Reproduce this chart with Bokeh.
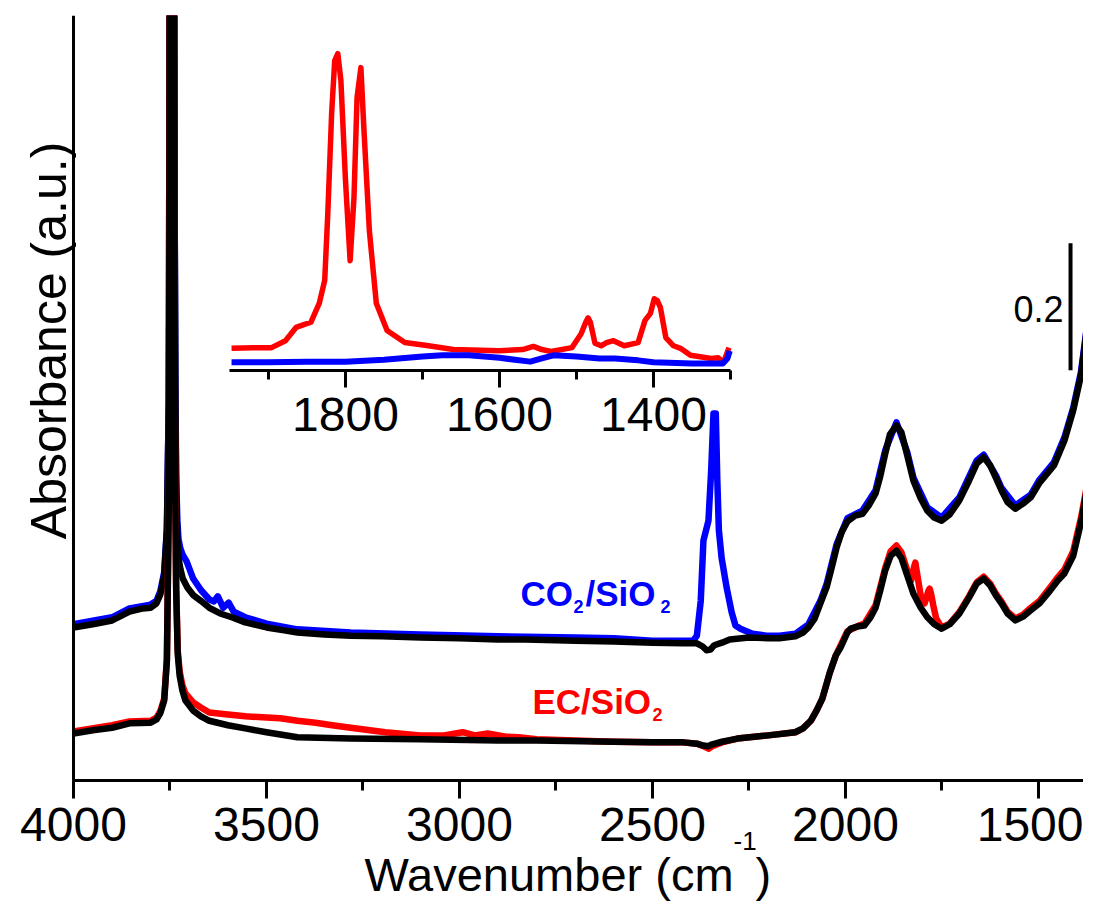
from math import pi
from bokeh.plotting import figure
from bokeh.models import Range1d, LinearAxis, SingleIntervalTicker, FixedTicker, Label
from bokeh.embed import file_html
from bokeh.resources import INLINE

FONT = "Liberation Sans"

# ---------------- data (absorbance, offset spectra) ----------------
# SiO2 reference spectrum, upper copy (under CO2/SiO2)
UPPER_WN = [4000, 3950, 3900, 3855, 3820, 3800, 3785, 3775, 3765, 3758, 3753, 3750, 3740, 3738, 3736, 3734,
            3731, 3728, 3723, 3717, 3705, 3690, 3670, 3648, 3620, 3590, 3555, 3500, 3450, 3420, 3350, 3282,
            3200, 3101, 3000, 2900, 2829, 2700, 2600, 2500, 2420, 2385, 2370, 2360, 2350, 2340, 2320, 2300,
            2250, 2200, 2171, 2130, 2110, 2096, 2080, 2065, 2049, 2035, 2023, 2010, 1995, 1975, 1956, 1940,
            1922, 1910, 1897, 1885, 1868, 1855, 1840, 1824, 1805, 1788, 1770, 1751, 1730, 1705, 1680, 1660,
            1642, 1625, 1610, 1596, 1580, 1560, 1540, 1520, 1497, 1460, 1433, 1410, 1390, 1375, 1363, 1345]
UPPER_A = [0.241, 0.246, 0.252, 0.266, 0.271, 0.272, 0.279, 0.293, 0.323, 0.394, 0.598, 1.55, 1.55, 0.913, 0.600, 0.450,
           0.380, 0.350, 0.333, 0.318, 0.304, 0.292, 0.283, 0.272, 0.263, 0.257, 0.249, 0.241, 0.236, 0.233, 0.230, 0.228,
           0.227, 0.225, 0.224, 0.222, 0.222, 0.220, 0.219, 0.217, 0.216, 0.216, 0.211, 0.205, 0.206, 0.213, 0.217, 0.222,
           0.225, 0.224, 0.224, 0.227, 0.233, 0.241, 0.255, 0.279, 0.304, 0.337, 0.367, 0.391, 0.408, 0.417, 0.420, 0.433,
           0.452, 0.479, 0.515, 0.545, 0.559, 0.548, 0.512, 0.472, 0.444, 0.425, 0.414, 0.409, 0.419, 0.441, 0.472, 0.499,
           0.509, 0.496, 0.476, 0.457, 0.438, 0.428, 0.436, 0.446, 0.469, 0.496, 0.535, 0.583, 0.638, 0.709, 0.756, 0.882]

# CO2/SiO2
BLUE_WN = [4000, 3900, 3855, 3800, 3785, 3775, 3765, 3758, 3753, 3750, 3740, 3738, 3736, 3734, 3731, 3728,
           3723, 3717, 3707, 3690, 3670, 3648, 3636, 3626, 3612, 3598, 3585, 3555, 3500, 3420, 3282, 3101,
           2900, 2700, 2600, 2500, 2420, 2395, 2385, 2375, 2368, 2360, 2355, 2348, 2342, 2336, 2332, 2328,
           2321, 2308, 2295, 2285, 2272, 2241, 2205, 2171, 2130, 2096, 2065, 2049, 2023, 1995, 1956, 1922,
           1897, 1868, 1840, 1824, 1788, 1751, 1705, 1660, 1642, 1610, 1596, 1560, 1520, 1497, 1460, 1433,
           1410, 1390, 1375, 1363, 1345]
BLUE_A = [0.246, 0.257, 0.271, 0.277, 0.283, 0.298, 0.328, 0.398, 0.603, 1.55, 1.55, 0.918, 0.620, 0.480, 0.410, 0.380,
          0.365, 0.355, 0.345, 0.318, 0.300, 0.285, 0.282, 0.290, 0.272, 0.280, 0.266, 0.257, 0.247, 0.238, 0.233, 0.230,
          0.227, 0.225, 0.224, 0.220, 0.220, 0.220, 0.228, 0.283, 0.378, 0.397, 0.409, 0.488, 0.578, 0.578, 0.472, 0.394,
          0.351, 0.304, 0.265, 0.244, 0.239, 0.231, 0.228, 0.228, 0.231, 0.246, 0.283, 0.309, 0.372, 0.413, 0.425, 0.457,
          0.520, 0.564, 0.517, 0.477, 0.430, 0.414, 0.446, 0.504, 0.513, 0.480, 0.461, 0.433, 0.450, 0.474, 0.501, 0.540,
          0.587, 0.643, 0.713, 0.761, 0.887]

# SiO2 reference spectrum, lower copy (under EC/SiO2)
LOWER_WN = [4000, 3950, 3900, 3855, 3800, 3785, 3775, 3765, 3758, 3753, 3749, 3741, 3739, 3737, 3734, 3730,
            3725, 3718, 3710, 3690, 3670, 3648, 3600, 3555, 3500, 3420, 3282, 3101, 2900, 2800, 2600, 2500,
            2420, 2385, 2368, 2355, 2345, 2320, 2280, 2200, 2130, 2110, 2090, 2075, 2060, 2041, 2025, 2013,
            1995, 1987, 1965, 1951, 1935, 1922, 1910, 1897, 1883, 1868, 1855, 1840, 1824, 1805, 1788, 1770,
            1751, 1730, 1705, 1680, 1660, 1642, 1625, 1610, 1596, 1580, 1560, 1540, 1520, 1497, 1470, 1450,
            1433, 1410, 1389, 1375, 1363, 1345]
LOWER_A = [0.074, 0.079, 0.083, 0.090, 0.091, 0.096, 0.106, 0.126, 0.189, 0.441, 1.55, 1.55, 0.913, 0.500, 0.300, 0.200,
           0.165, 0.142, 0.126, 0.110, 0.101, 0.094, 0.087, 0.082, 0.076, 0.068, 0.066, 0.065, 0.063, 0.063, 0.061, 0.060,
           0.060, 0.058, 0.055, 0.054, 0.057, 0.061, 0.066, 0.071, 0.076, 0.082, 0.094, 0.110, 0.129, 0.169, 0.197, 0.209,
           0.233, 0.239, 0.243, 0.244, 0.257, 0.272, 0.299, 0.331, 0.354, 0.362, 0.350, 0.323, 0.294, 0.272, 0.257, 0.246,
           0.239, 0.246, 0.263, 0.288, 0.310, 0.318, 0.307, 0.291, 0.279, 0.263, 0.252, 0.258, 0.268, 0.279, 0.299, 0.315,
           0.326, 0.354, 0.409, 0.457, 0.504, 0.630]

# EC/SiO2
RED_WN = [4000, 3900, 3855, 3800, 3785, 3775, 3765, 3758, 3753, 3749, 3741, 3739, 3737, 3734, 3730, 3725,
          3718, 3710, 3690, 3670, 3648, 3600, 3555, 3500, 3464, 3420, 3373, 3330, 3282, 3192, 3101, 3040,
          2992, 2960, 2927, 2880, 2847, 2800, 2700, 2600, 2500, 2420, 2385, 2368, 2355, 2345, 2320, 2280,
          2200, 2130, 2110, 2090, 2075, 2060, 2041, 2025, 1995, 1965, 1951, 1922, 1897, 1883, 1868, 1855,
          1840, 1830, 1822, 1819, 1815, 1805, 1795, 1785, 1782, 1778, 1772, 1765, 1751, 1730, 1705, 1680,
          1660, 1642, 1625, 1610, 1596, 1580, 1560, 1540, 1520, 1497, 1470, 1450, 1433, 1410, 1389, 1375,
          1363, 1345]
RED_A = [0.077, 0.087, 0.093, 0.094, 0.099, 0.109, 0.129, 0.192, 0.444, 1.55, 1.55, 0.917, 0.505, 0.305, 0.205, 0.172,
         0.150, 0.137, 0.123, 0.115, 0.107, 0.104, 0.101, 0.099, 0.098, 0.094, 0.091, 0.087, 0.083, 0.076, 0.071, 0.071,
         0.076, 0.071, 0.074, 0.069, 0.068, 0.065, 0.063, 0.061, 0.060, 0.060, 0.058, 0.054, 0.050, 0.054, 0.060, 0.066,
         0.071, 0.076, 0.082, 0.094, 0.110, 0.129, 0.169, 0.197, 0.235, 0.244, 0.247, 0.276, 0.335, 0.361, 0.370, 0.359,
         0.331, 0.315, 0.337, 0.343, 0.328, 0.290, 0.279, 0.299, 0.302, 0.293, 0.274, 0.255, 0.241, 0.247, 0.265, 0.290,
         0.312, 0.321, 0.310, 0.294, 0.282, 0.266, 0.255, 0.261, 0.272, 0.283, 0.304, 0.320, 0.332, 0.361, 0.416, 0.463,
         0.510, 0.636]

# inset: 1950-1300 cm-1
INSET_RED_WN = [1948, 1920, 1896, 1878, 1864, 1855, 1845, 1834, 1827, 1823, 1818, 1814, 1810, 1806, 1800, 1794,
                1789, 1785, 1780, 1776, 1769, 1760, 1746, 1723, 1692, 1660, 1601, 1570, 1556, 1545, 1533, 1506,
                1494, 1488, 1485, 1482, 1476, 1468, 1461, 1452, 1445, 1438, 1420, 1411, 1404, 1399, 1395, 1391,
                1384, 1374, 1365, 1352, 1325, 1316, 1309, 1302]
INSET_RED_A = [0.035, 0.036, 0.036, 0.047, 0.068, 0.072, 0.076, 0.106, 0.142, 0.247, 0.405, 0.488, 0.499, 0.457, 0.299, 0.173,
               0.272, 0.430, 0.477, 0.378, 0.220, 0.106, 0.063, 0.044, 0.039, 0.033, 0.031, 0.033, 0.038, 0.033, 0.030, 0.036,
               0.058, 0.076, 0.083, 0.076, 0.043, 0.039, 0.044, 0.047, 0.043, 0.039, 0.044, 0.079, 0.090, 0.113, 0.110, 0.099,
               0.052, 0.039, 0.035, 0.024, 0.019, 0.020, 0.013, 0.036]
INSET_BLUE_WN = [1948, 1900, 1850, 1800, 1750, 1700, 1674, 1640, 1600, 1580, 1560, 1545, 1530, 1500, 1470, 1450,
                 1420, 1400, 1350, 1310, 1304, 1301]
INSET_BLUE_A = [0.013, 0.013, 0.014, 0.014, 0.017, 0.022, 0.024, 0.024, 0.020, 0.017, 0.014, 0.019, 0.024, 0.022, 0.019, 0.019,
                0.016, 0.013, 0.011, 0.011, 0.019, 0.031]

SCALE_BAR = 0.2
X_TICKS = 500
INSET_TICKS = 200

BLUE = "#0000FF"
RED = "#FF0000"

# ---------------- figure ----------------
# the frame covers the whole canvas; the visible axes are fixed-location axes
p = figure(width=1083, height=901, output_backend="svg", toolbar_location=None,
           x_range=Range1d(4189.1, 1383.4), y_range=Range1d(-0.1906, 1.2047),
           x_axis_location=None, y_axis_location=None,
           min_border_left=0, min_border_right=0, min_border_top=15, min_border_bottom=0)
p.outline_line_color = None
p.grid.visible = False
p.extra_x_ranges = {"inset": Range1d(2248.05, 841.56)}
p.extra_y_ranges = {"inset": Range1d(-0.8362, 0.5591)}


def style_x_axis(ax, tick_out, minor_out):
    ax.axis_line_width = 3
    ax.major_tick_line_width = 3
    ax.minor_tick_line_width = 3
    ax.major_tick_out = tick_out
    ax.major_tick_in = 0
    ax.minor_tick_out = minor_out
    ax.minor_tick_in = 0
    ax.major_label_text_font = FONT
    ax.major_label_text_font_size = "48px"
    ax.major_label_text_color = "black"
    ax.major_label_standoff = 10


xa = LinearAxis(fixed_location=0, bounds=(1300, 4000),
                ticker=SingleIntervalTicker(interval=X_TICKS, num_minor_ticks=2))
style_x_axis(xa, 18, 10)
p.add_layout(xa, "below")

ya = LinearAxis(fixed_location=4000, bounds=(0, 1.2047), ticker=FixedTicker(ticks=[], minor_ticks=[]))
ya.axis_line_width = 3
ya.major_tick_line_color = None
ya.minor_tick_line_color = None
ya.major_label_text_font_size = "0px"
p.add_layout(ya, "left")

ia = LinearAxis(x_range_name="inset", y_range_name="inset", fixed_location=0, bounds=(1300, 1950),
                ticker=SingleIntervalTicker(interval=INSET_TICKS, num_minor_ticks=2))
style_x_axis(ia, 17, 9)
p.add_layout(ia, "below")

# main spectra
p.line(BLUE_WN, BLUE_A, line_color=BLUE, line_width=6.5, line_join="round")
p.line(UPPER_WN, UPPER_A, line_color="black", line_width=6.5, line_join="round")
p.line(RED_WN, RED_A, line_color=RED, line_width=6.5, line_join="round")
p.line(LOWER_WN, LOWER_A, line_color="black", line_width=6.5, line_join="round")

# inset spectra
p.line(INSET_RED_WN, INSET_RED_A, line_color=RED, line_width=5.5, line_join="round",
       x_range_name="inset", y_range_name="inset")
p.line(INSET_BLUE_WN, INSET_BLUE_A, line_color=BLUE, line_width=6, line_join="round",
       x_range_name="inset", y_range_name="inset")

# scale bar
p.segment(x0=[1417], y0=[0.646], x1=[1417], y1=[0.646 + SCALE_BAR], line_color="black", line_width=4)

LIFT = 14  # screen px; compensates the renderer's baseline placement


def add_text(x, y, txt, size, color, dx=0, dy=0, bold=True, align="left"):
    p.add_layout(Label(x=x, y=y, x_offset=dx, y_offset=dy + LIFT, text=txt, text_align=align,
                       text_baseline="alphabetic", text_font=FONT, text_font_size=size,
                       text_font_style="bold" if bold else "normal", text_color=color))


add_text(1435, 0.721, str(SCALE_BAR), "36px", "black", bold=False, align="right")

# series labels with subscripts
add_text(2842, 0.2724, "CO", "35px", BLUE)
add_text(2842, 0.2724, "2", "18px", BLUE, dx=53, dy=-13)
add_text(2842, 0.2724, "/SiO", "35px", BLUE, dx=65)
add_text(2842, 0.2724, "2", "18px", BLUE, dx=140, dy=-13)

add_text(2811, 0.102, "EC/SiO", "35px", RED)
add_text(2811, 0.102, "2", "18px", RED, dx=120, dy=-13)

# axis titles
add_text(2290, -0.1701, "Wavenumber (cm", "47px", "black", bold=False, align="right")
add_text(2290, -0.1701, "-1", "26px", "black", dx=0, dy=33, bold=False)
add_text(2290, -0.1701, ")", "47px", "black", dx=22, bold=False)

p.add_layout(Label(x=4026, y=0.693, x_offset=-LIFT, text="Absorbance (a.u.)", angle=pi / 2, text_align="center",
                   text_baseline="alphabetic", text_font=FONT, text_font_size="50px", text_color="black"))

open("out.html", "w").write(file_html(p, INLINE))
